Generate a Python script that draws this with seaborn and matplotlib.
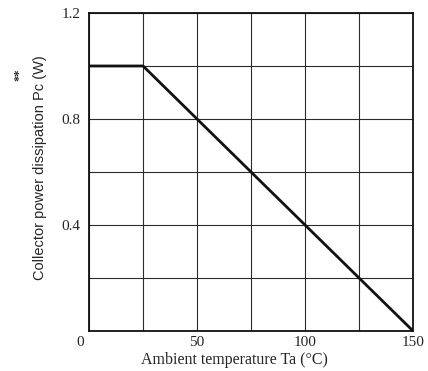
import matplotlib
matplotlib.use('Agg')
import matplotlib.pyplot as plt
import seaborn as sns
import pandas as pd

# derating curve
temperature = [0, 25, 150]
power = [1.0, 1.0, 0.0]

x_ticks = [0, 25, 50, 75, 100, 125, 150]
x_labels = ['', '', '50', '', '100', '', '150']
y_ticks = [0, 0.2, 0.4, 0.6, 0.8, 1.0, 1.2]
y_labels = ['', '', '0.4', '', '0.8', '', '1.2']

sns.set_style('white')
plt.rcParams['font.family'] = ['Liberation Serif', 'DejaVu Serif']

df = pd.DataFrame({'Ta': temperature, 'Pc': power})

fig = plt.figure(figsize=(4.28, 3.71), dpi=100)
ax = fig.add_axes([0.208, 0.108, 0.757, 0.857])

sns.lineplot(data=df, x='Ta', y='Pc', ax=ax, color='#111111', linewidth=2.0)

ax.set_xlim(0, 150)
ax.set_ylim(0, 1.2)
ax.set_xticks(x_ticks)
ax.set_xticklabels(x_labels, fontsize=11)
ax.set_yticks(y_ticks)
ax.set_yticklabels(y_labels, fontsize=11)
ax.tick_params(axis='y', length=0, pad=6)
ax.tick_params(axis='x', length=0, pad=4)
ax.grid(True, color='#2a2a2a', linewidth=0.8)
for s in ax.spines.values():
    s.set_color('#111111')
    s.set_linewidth(1.3)

ax.set_xlabel('Ambient temperature Ta (°C)', fontsize=11.5)
ax.set_ylabel('Collector power dissipation Pc (W)', fontsize=10.5,
              family=['Liberation Sans', 'DejaVu Sans'])
ax.xaxis.set_label_coords(0.45, -0.066)
ax.yaxis.set_label_coords((47 - 89) / 326, (371 - 168 - 40) / 318)

# origin label and footnote marks
fig.text(80 / 428, 1 - 342 / 371, '0', fontsize=11, ha='center', va='center')
fig.text(19 / 428, 1 - 75 / 371, '**', fontsize=9, ha='center', va='center',
         rotation=90, fontweight='bold')

fig.savefig('out.png', dpi=100)
